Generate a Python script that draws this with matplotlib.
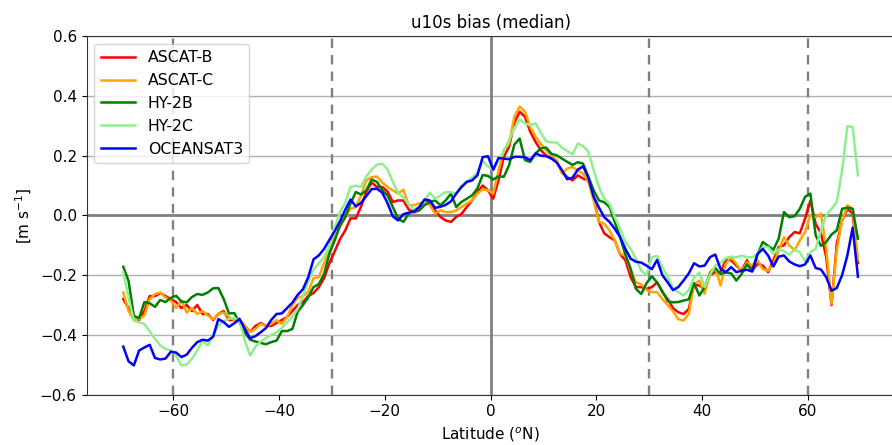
import numpy as np
import matplotlib
matplotlib.use("Agg")
import matplotlib.pyplot as plt

# latitude bin centres, 1 degree bins
lat = np.arange(-69.5, 70, 1.0)

ascat_b = [
    -0.28, -0.31, -0.35, -0.35, -0.32, -0.27, -0.27, -0.26, -0.27, -0.28,
    -0.29, -0.31, -0.30, -0.32, -0.30, -0.33, -0.33, -0.35, -0.33, -0.32,
    -0.35, -0.35, -0.35, -0.37, -0.39, -0.37, -0.36, -0.37, -0.37, -0.36,
    -0.35, -0.34, -0.32, -0.30, -0.29,
    -0.27, -0.26, -0.24, -0.21, -0.16, -0.12, -0.08, -0.05, -0.01, -0.01,
    0.03, 0.08, 0.11, 0.095, 0.095, 0.08, 0.045, 0.05, 0.05, 0.02,
    0.01, 0.017, 0.05, 0.04, 0.017, -0.005, -0.017, -0.022, -0.005, 0.005,
    0.028, 0.05, 0.078, 0.10,
    0.084, 0.056, 0.117, 0.196, 0.23, 0.31, 0.347, 0.33, 0.28, 0.246,
    0.218, 0.20, 0.19, 0.18, 0.145, 0.128, 0.117, 0.134, 0.123, 0.117,
    0.06, -0.022, -0.06, -0.073, -0.084, -0.13, -0.15, -0.207, -0.24, -0.24,
    -0.246, -0.24, -0.224, -0.257, -0.28,
    -0.31, -0.324, -0.33, -0.313, -0.23, -0.235, -0.246, -0.2, -0.19, -0.19,
    -0.15, -0.15, -0.168, -0.185, -0.15, -0.185, -0.162, -0.168, -0.19, -0.15,
    -0.106, -0.10, -0.073, -0.056, -0.06, -0.011, 0.05, -0.028, -0.06, -0.14,
    -0.30, -0.095, -0.017, 0.022, 0.006, -0.16,
]

ascat_c = [
    -0.258, -0.32, -0.35, -0.347, -0.335, -0.28, -0.263, -0.258, -0.275, -0.285,
    -0.31, -0.285, -0.325, -0.31, -0.33, -0.32, -0.335, -0.347, -0.33, -0.325,
    -0.34, -0.35, -0.35, -0.37, -0.39, -0.38, -0.363, -0.37, -0.363, -0.35,
    -0.363, -0.34, -0.30, -0.275, -0.27,
    -0.257, -0.21, -0.207, -0.16, -0.117, -0.073, -0.04, -0.006, 0.022, 0.028,
    0.067, 0.117, 0.128, 0.13, 0.11, 0.095, 0.084, 0.073, 0.086, 0.034,
    0.034, 0.04, 0.045, 0.034, 0.006, 0.017, 0.011, 0.011, 0.017, 0.028,
    0.04, 0.05, 0.073, 0.087,
    0.084, 0.073, 0.15, 0.218, 0.24, 0.33, 0.364, 0.347, 0.296, 0.263,
    0.24, 0.218, 0.20, 0.185, 0.14, 0.157, 0.162, 0.15, 0.14, 0.112,
    0.05, -0.022, -0.028, -0.05, -0.084, -0.129, -0.134, -0.185, -0.224, -0.23,
    -0.25, -0.257, -0.257, -0.28, -0.30,
    -0.32, -0.347, -0.352, -0.33, -0.23, -0.218, -0.263, -0.19, -0.173, -0.235,
    -0.162, -0.14, -0.162, -0.19, -0.157, -0.168, -0.15, -0.18, -0.185, -0.162,
    -0.117, -0.073, -0.10, -0.117, -0.084, -0.056, 0.0, -0.006, 0.006, -0.11,
    -0.296, -0.117, -0.017, 0.034, 0.022, -0.15,
]

hy_2b = [
    -0.172, -0.219, -0.336, -0.344, -0.29, -0.294, -0.306, -0.283, -0.29, -0.276,
    -0.269, -0.288, -0.291, -0.273, -0.263, -0.266, -0.258, -0.244, -0.243, -0.28,
    -0.328, -0.327, -0.358, -0.392, -0.416, -0.422, -0.427, -0.431, -0.424, -0.419,
    -0.387, -0.387, -0.38, -0.322, -0.30,
    -0.274, -0.24, -0.23, -0.196, -0.128, -0.084, -0.034, -0.006, 0.04, 0.078,
    0.07, 0.084, 0.12, 0.112, 0.084, 0.067, 0.028, -0.011, -0.022, 0.006,
    0.017, 0.017, 0.034, 0.045, 0.05, 0.034, 0.05, 0.073, 0.028, 0.045,
    0.056, 0.067, 0.09, 0.135,
    0.132, 0.12, 0.131, 0.129, 0.168, 0.237, 0.257, 0.185, 0.179, 0.207,
    0.224, 0.227, 0.206, 0.201, 0.19, 0.179, 0.169, 0.178, 0.173, 0.129,
    0.084, 0.05, 0.044, 0.028, -0.022, -0.073, -0.131, -0.179, -0.246, -0.263,
    -0.227, -0.204, -0.224, -0.254, -0.287,
    -0.291, -0.29, -0.285, -0.281, -0.227, -0.268, -0.24, -0.196, -0.176, -0.196,
    -0.191, -0.194, -0.218, -0.196, -0.164, -0.185, -0.131, -0.089, -0.102, -0.115,
    -0.078, 0.011, -0.006, -0.003, 0.022, 0.062, 0.073, -0.067, -0.102, -0.089,
    -0.064, -0.05, 0.022, 0.026, 0.022, -0.078,
]

hy_2c = [
    -0.19, -0.274, -0.352, -0.358, -0.363, -0.388, -0.413, -0.435, -0.447, -0.452,
    -0.469, -0.502, -0.499, -0.48, -0.452, -0.419, -0.435, -0.402, -0.369, -0.354,
    -0.346, -0.343, -0.352, -0.419, -0.469, -0.439, -0.422, -0.41, -0.40, -0.391,
    -0.377, -0.358, -0.339, -0.313, -0.27,
    -0.22, -0.182, -0.16, -0.14, -0.102, -0.041, 0.011, 0.042, 0.095, 0.099,
    0.095, 0.131, 0.153, 0.17, 0.173, 0.154, 0.112, 0.075, 0.061, 0.037,
    0.02, 0.028, 0.048, 0.076, 0.056, 0.067, 0.078, 0.078, 0.073, 0.10,
    0.113, 0.126, 0.143, 0.182,
    0.164, 0.151, 0.185, 0.213, 0.252, 0.291, 0.321, 0.308, 0.302, 0.308,
    0.277, 0.248, 0.244, 0.244, 0.227, 0.215, 0.204, 0.24, 0.232, 0.213,
    0.151, 0.095, 0.056, 0.039, -0.006, -0.045, -0.089, -0.112, -0.145, -0.185,
    -0.20, -0.14, -0.136, -0.173, -0.205,
    -0.243, -0.257, -0.268, -0.25, -0.207, -0.191, -0.24, -0.20, -0.168, -0.16,
    -0.143, -0.138, -0.14, -0.135, -0.14, -0.14, -0.129, -0.106, -0.106, -0.129,
    -0.113, -0.12, -0.131, -0.115, -0.123, -0.153, -0.123, -0.112, -0.05, 0.0,
    0.022, 0.045, 0.15, 0.299, 0.296, 0.134,
]

oceansat3 = [
    -0.439, -0.488, -0.502, -0.452, -0.442, -0.433, -0.477, -0.482, -0.479, -0.456,
    -0.459, -0.474, -0.466, -0.443, -0.424, -0.416, -0.419, -0.406, -0.347, -0.357,
    -0.373, -0.361, -0.346, -0.38, -0.411, -0.404, -0.391, -0.377, -0.35, -0.33,
    -0.328, -0.31, -0.292, -0.266, -0.247,
    -0.207, -0.147, -0.134, -0.112, -0.082, -0.053, -0.02, 0.019, 0.053, 0.03,
    0.042, 0.065, 0.088, 0.089, 0.076, 0.041, -0.003, -0.017, 0.004, 0.009,
    0.013, 0.028, 0.053, 0.05, 0.025, 0.029, 0.035, 0.047, 0.073, 0.095,
    0.112, 0.117, 0.134, 0.195,
    0.198, 0.153, 0.192, 0.19, 0.188, 0.196, 0.196, 0.194, 0.185, 0.207,
    0.20, 0.198, 0.191, 0.177, 0.151, 0.121, 0.126, 0.153, 0.164, 0.126,
    0.062, 0.026, -0.006, -0.022, -0.045, -0.073, -0.112, -0.145, -0.155, -0.158,
    -0.168, -0.18, -0.149, -0.20, -0.224,
    -0.25, -0.24, -0.218, -0.194, -0.16, -0.171, -0.168, -0.14, -0.131, -0.179,
    -0.19, -0.173, -0.19, -0.185, -0.182, -0.188, -0.129, -0.112, -0.134, -0.171,
    -0.138, -0.134, -0.154, -0.164, -0.17, -0.164, -0.134, -0.176, -0.181, -0.207,
    -0.252, -0.243, -0.20, -0.134, -0.041, -0.205,
]

names = ["ASCAT-B", "ASCAT-C", "HY-2B", "HY-2C", "OCEANSAT3"]
series = [ascat_b, ascat_c, hy_2b, hy_2c, oceansat3]
colors = ["red", "orange", "green", "lightgreen", "blue"]

plt.rcParams["font.size"] = 11

fig = plt.figure(figsize=(8.92, 4.45), dpi=100)
ax = fig.add_axes([0.097, 0.113, 0.906, 0.806])

for name, vals, c in zip(names, series, colors):
    ax.plot(lat, vals, color=c, lw=1.8, label=name)

ax.axhline(0, color="gray", lw=2, zorder=1)
ax.axvline(0, color="gray", lw=2, zorder=1)
for x in [-60, -30, 30, 60]:
    ax.axvline(x, color="gray", lw=1.7, ls=(0, (4, 3)), zorder=1)

ax.grid(axis="y", color="#b0b0b0", lw=1)
ax.set_axisbelow(True)
for s in ax.spines.values():
    s.set_color("#333333")
ax.set_xlim(-76.45, 76.45)
ax.set_ylim(-0.6, 0.6)
ax.set_xticks([-60, -40, -20, 0, 20, 40, 60])
ax.set_yticks([-0.6, -0.4, -0.2, 0.0, 0.2, 0.4, 0.6])
ax.set_title("u10s bias (median)", fontsize=12)
ax.set_xlabel("Latitude ($^o$N)")
ax.set_ylabel("[m s$^{-1}$]")
ax.legend(loc="upper left", fontsize=11.3, handlelength=2.2)

fig.savefig("out.png", dpi=100)
